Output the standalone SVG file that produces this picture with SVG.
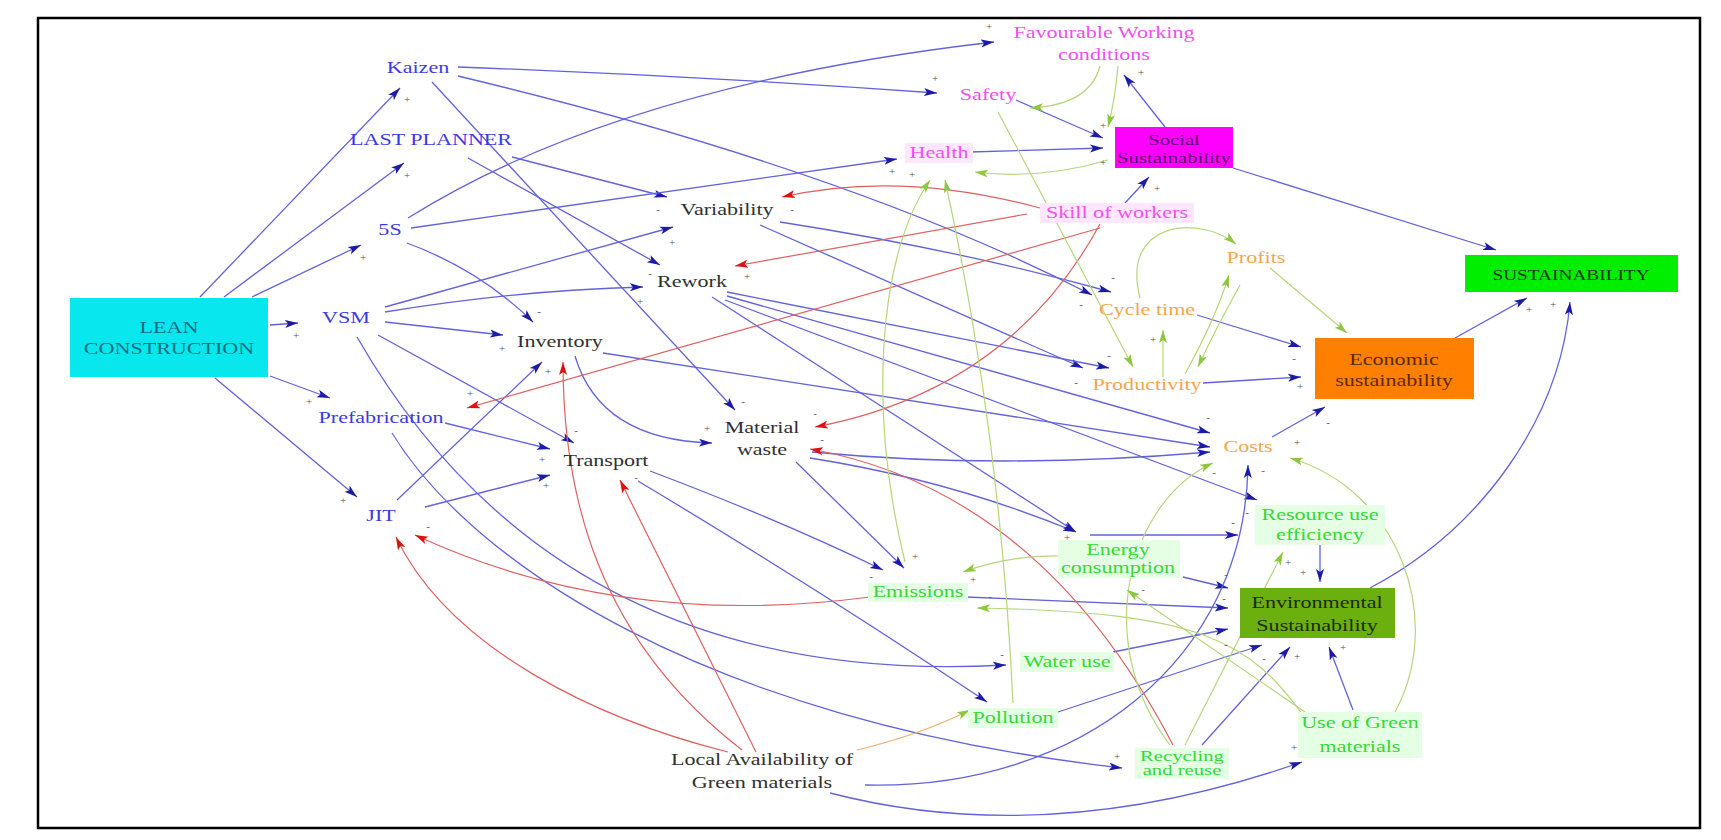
<svg xmlns="http://www.w3.org/2000/svg" width="1721" height="840" viewBox="0 0 1721 840">
<style>
text{font-family:"Liberation Serif","Times New Roman",serif;font-size:16px;text-anchor:middle}
.bl{fill:#3b3be0}.dk{fill:#303030}.pk{fill:#f050f0}.or{fill:#f5a550}.gr{fill:#35d835}
.sg{font-size:11px;fill:#555}
.b{fill:none;stroke:#6262dc;stroke-width:1.3;marker-end:url(#ab)}
.r{fill:none;stroke:#e06060;stroke-width:1.2;marker-end:url(#ar)}
.g{fill:none;stroke:#b5d67a;stroke-width:1.2;marker-end:url(#ag)}
.o{fill:none;stroke:#f0b070;stroke-width:1.2;marker-end:url(#ag)}
.bgg{fill:#e4ffe4}.bgp{fill:#ffe8ff}
</style>
<defs>
<marker id="ab" markerUnits="userSpaceOnUse" markerWidth="14" markerHeight="10" refX="13" refY="5" orient="auto"><path d="M0,1 L13,5 L0,9 L3,5 z" fill="#1b1ba8"/></marker>
<marker id="ar" markerUnits="userSpaceOnUse" markerWidth="14" markerHeight="10" refX="13" refY="5" orient="auto"><path d="M0,1 L13,5 L0,9 L3,5 z" fill="#e01010"/></marker>
<marker id="ag" markerUnits="userSpaceOnUse" markerWidth="14" markerHeight="10" refX="13" refY="5" orient="auto"><path d="M0,1 L13,5 L0,9 L3,5 z" fill="#8dc63f"/></marker>
</defs>
<rect x="0" y="0" width="1721" height="840" fill="#fff"/>
<rect x="38" y="18" width="1662" height="810" fill="none" stroke="#000" stroke-width="2.5"/>

<g id="connectors">
<path class="b" d="M200,297 L400,88"/>
<path class="b" d="M224,297 L404,163"/>
<path class="b" d="M252,297 L361,245"/>
<path class="b" d="M270,325 L298,323"/>
<path class="b" d="M270,376 L330,398"/>
<path class="b" d="M215,378 L357,497"/>
<path class="b" d="M458,67 Q700,76 937,93"/>
<path class="b" d="M458,76 Q850,170 1092,295"/>
<path class="b" d="M432,82 L735,410"/>
<path class="b" d="M512,157 L667,197"/>
<path class="b" d="M468,158 L660,265"/>
<path class="b" d="M411,228 L897,159"/>
<path class="b" d="M408,218 Q620,85 994,42"/>
<path class="b" d="M407,243 Q480,270 533,322"/>
<path class="b" d="M385,307 L673,227"/>
<path class="b" d="M385,312 Q520,290 643,287"/>
<path class="b" d="M385,322 L503,335"/>
<path class="b" d="M378,335 L574,443"/>
<path class="b" d="M357,337 Q560,690 1006,665"/>
<path class="b" d="M445,423 L550,449"/>
<path class="b" d="M392,433 C470,560 700,720 1122,768"/>
<path class="b" d="M397,500 L542,362"/>
<path class="b" d="M425,507 L550,475"/>
<path class="b" d="M575,356 Q600,440 712,443"/>
<path class="b" d="M603,353 Q900,400 1210,447"/>
<path class="b" d="M650,471 Q780,520 883,570"/>
<path class="b" d="M638,481 Q820,590 987,702"/>
<path class="b" d="M796,462 L904,568"/>
<path class="b" d="M810,458 Q950,480 1076,532"/>
<path class="b" d="M812,452 Q1000,470 1210,452"/>
<path class="b" d="M780,222 Q960,250 1111,292"/>
<path class="b" d="M760,225 L1083,368"/>
<path class="b" d="M727,292 L1109,368"/>
<path class="b" d="M727,296 L1210,433"/>
<path class="b" d="M725,300 L1257,500"/>
<path class="b" d="M712,297 L1076,532"/>
<path class="b" d="M970,152 L1103,148"/>
<path class="b" d="M1016,100 L1103,138"/>
<path class="b" d="M1125,203 L1149,177"/>
<path class="b" d="M1165,127 L1124,75"/>
<path class="b" d="M1233,168 L1496,250"/>
<path class="b" d="M1197,315 L1301,347"/>
<path class="b" d="M1203,383 L1301,377"/>
<path class="b" d="M1272,437 L1325,407"/>
<path class="b" d="M1455,338 L1527,298"/>
<path class="b" d="M1370,588 C1480,530 1560,420 1570,302"/>
<path class="b" d="M1320,545 L1320,582"/>
<path class="b" d="M1090,535 L1238,535"/>
<path class="b" d="M1183,577 L1228,588"/>
<path class="b" d="M966,597 L1228,608"/>
<path class="b" d="M1113,652 L1228,629"/>
<path class="b" d="M1058,712 L1262,645"/>
<path class="b" d="M1202,745 L1290,647"/>
<path class="b" d="M1353,710 L1329,647"/>
<path class="b" d="M865,785 C1080,790 1245,660 1248,465"/>
<path class="b" d="M830,793 Q1050,850 1302,762"/>

<path class="r" d="M1040,208 Q900,170 782,197"/>
<path class="r" d="M1027,214 L735,266"/>
<path class="r" d="M1100,228 L467,408"/>
<path class="r" d="M1100,224 Q1010,390 815,427"/>
<path class="r" d="M1173,745 Q1040,490 810,449"/>
<path class="r" d="M742,750 C600,640 563,500 563,362"/>
<path class="r" d="M756,752 L620,480"/>
<path class="r" d="M728,752 C600,720 450,650 396,537"/>
<path class="r" d="M870,597 Q620,630 415,535"/>

<path class="g" d="M1100,66 Q1090,105 1030,108"/>
<path class="g" d="M1118,66 Q1115,100 1108,127"/>
<path class="g" d="M1108,160 Q1040,180 975,172"/>
<path class="g" d="M905,562 C870,420 875,260 930,180"/>
<path class="g" d="M1013,703 Q1000,430 945,180"/>
<path class="g" d="M998,112 L1133,367"/>
<path class="g" d="M1185,374 Q1215,320 1229,275"/>
<path class="g" d="M1240,285 Q1215,330 1198,367"/>
<path class="g" d="M1140,298 C1120,220 1200,215 1236,244"/>
<path class="g" d="M1163,377 L1163,330"/>
<path class="g" d="M1270,268 L1347,333"/>
<path class="g" d="M1170,745 C1090,640 1130,500 1213,463"/>
<path class="g" d="M1395,712 C1445,620 1400,490 1290,458"/>
<path class="g" d="M1305,712 L1127,590"/>
<path class="g" d="M1185,745 L1283,552"/>
<path class="g" d="M1060,556 Q1010,555 963,572"/>
<path class="g" d="M1305,718 C1250,640 1200,612 977,608"/>
<path class="o" d="M857,750 Q920,735 970,710"/>

<g id="polarity">
<text class="sg" x="407" y="103">+</text>
<text class="sg" x="407" y="179">+</text>
<text class="sg" x="363" y="261">+</text>
<text class="sg" x="296" y="339">+</text>
<text class="sg" x="309" y="405">+</text>
<text class="sg" x="343" y="504">+</text>
<text class="sg" x="539" y="315">-</text>
<text class="sg" x="502" y="352">+</text>
<text class="sg" x="548" y="375">+</text>
<text class="sg" x="470" y="397">+</text>
<text class="sg" x="542" y="463">+</text>
<text class="sg" x="546" y="489">+</text>
<text class="sg" x="576" y="434">-</text>
<text class="sg" x="636" y="481">-</text>
<text class="sg" x="428" y="530">-</text>
<text class="sg" x="707" y="432">+</text>
<text class="sg" x="743" y="405">-</text>
<text class="sg" x="815" y="417">-</text>
<text class="sg" x="822" y="443">-</text>
<text class="sg" x="658" y="213">-</text>
<text class="sg" x="792" y="213">-</text>
<text class="sg" x="672" y="246">+</text>
<text class="sg" x="650" y="277">-</text>
<text class="sg" x="640" y="305">+</text>
<text class="sg" x="747" y="280">+</text>
<text class="sg" x="892" y="175">+</text>
<text class="sg" x="912" y="178">+</text>
<text class="sg" x="935" y="82">+</text>
<text class="sg" x="989" y="30">+</text>
<text class="sg" x="1141" y="76">+</text>
<text class="sg" x="1103" y="129">+</text>
<text class="sg" x="1103" y="166">+</text>
<text class="sg" x="1157" y="192">+</text>
<text class="sg" x="1113" y="281">-</text>
<text class="sg" x="1081" y="308">-</text>
<text class="sg" x="1153" y="343">+</text>
<text class="sg" x="1109" y="359">-</text>
<text class="sg" x="1076" y="386">-</text>
<text class="sg" x="1294" y="362">-</text>
<text class="sg" x="1300" y="390">+</text>
<text class="sg" x="1328" y="426">-</text>
<text class="sg" x="1529" y="313">+</text>
<text class="sg" x="1553" y="308">+</text>
<text class="sg" x="1208" y="421">-</text>
<text class="sg" x="1214" y="476">-</text>
<text class="sg" x="1263" y="474">-</text>
<text class="sg" x="1297" y="446">+</text>
<text class="sg" x="1233" y="526">-</text>
<text class="sg" x="1247" y="516">-</text>
<text class="sg" x="1067" y="541">+</text>
<text class="sg" x="1143" y="593">-</text>
<text class="sg" x="1226" y="578">-</text>
<text class="sg" x="1224" y="602">-</text>
<text class="sg" x="1226" y="648">-</text>
<text class="sg" x="1264" y="662">-</text>
<text class="sg" x="1297" y="660">+</text>
<text class="sg" x="1343" y="651">+</text>
<text class="sg" x="1303" y="576">+</text>
<text class="sg" x="1288" y="566">+</text>
<text class="sg" x="915" y="560">+</text>
<text class="sg" x="871" y="580">-</text>
<text class="sg" x="973" y="583">+</text>
<text class="sg" x="990" y="600">-</text>
<text class="sg" x="1002" y="658">-</text>
<text class="sg" x="1117" y="760">+</text>
<text class="sg" x="1294" y="751">+</text>
</g>
</g>

<g id="lean-construction">
<rect x="70" y="298" width="198" height="79" fill="#08e6ee"/>
<text transform="translate(169,333) scale(1.38,1)" fill="#0a6f80"><tspan x="0">LEAN</tspan><tspan x="0" dy="21">CONSTRUCTION</tspan></text>
</g>
<g id="kaizen"><text class="bl" transform="translate(418,73) scale(1.38,1)">Kaizen</text></g>
<g id="last-planner"><text class="bl" transform="translate(431,145) scale(1.38,1)">LAST PLANNER</text></g>
<g id="five-s"><text class="bl" transform="translate(390,235) scale(1.38,1)">5S</text></g>
<g id="vsm"><text class="bl" transform="translate(346,323) scale(1.38,1)">VSM</text></g>
<g id="prefabrication"><text class="bl" transform="translate(381,423) scale(1.38,1)">Prefabrication</text></g>
<g id="jit"><text class="bl" transform="translate(381,521) scale(1.38,1)">JIT</text></g>
<g id="inventory"><text class="dk" transform="translate(560,347) scale(1.38,1)">Inventory</text></g>
<g id="transport"><text class="dk" transform="translate(606,466) scale(1.38,1)">Transport</text></g>
<g id="material-waste"><text class="dk" transform="translate(762,433) scale(1.38,1)"><tspan x="0">Material</tspan><tspan x="0" dy="22">waste</tspan></text></g>
<g id="variability"><text class="dk" transform="translate(727,215) scale(1.38,1)">Variability</text></g>
<g id="rework"><text class="dk" transform="translate(692,287) scale(1.38,1)">Rework</text></g>
<g id="health"><rect class="bgp" x="905" y="143" width="68" height="20"/><text class="pk" transform="translate(939,158) scale(1.38,1)">Health</text></g>
<g id="safety"><text class="pk" transform="translate(988,100) scale(1.38,1)">Safety</text></g>
<g id="favourable"><text class="pk" transform="translate(1104,38) scale(1.38,1)"><tspan x="0">Favourable Working</tspan><tspan x="0" dy="22">conditions</tspan></text></g>
<g id="skill"><rect class="bgp" x="1040" y="203" width="154" height="20"/><text class="pk" transform="translate(1117,218) scale(1.38,1)">Skill of workers</text></g>
<g id="social-sustainability">
<rect x="1115" y="127" width="118" height="41" fill="#ff00ff"/>
<text transform="translate(1174,145) scale(1.38,1)" fill="#5a0a6a" style="font-size:15px"><tspan x="0">Social</tspan><tspan x="0" dy="18">Sustainability</tspan></text>
</g>
<g id="profits"><text class="or" transform="translate(1256,263) scale(1.38,1)">Profits</text></g>
<g id="cycle-time"><text class="or" transform="translate(1147,315) scale(1.38,1)">Cycle time</text></g>
<g id="productivity"><text class="or" transform="translate(1147,390) scale(1.38,1)">Productivity</text></g>
<g id="costs"><text class="or" transform="translate(1248,452) scale(1.38,1)">Costs</text></g>
<g id="economic-sustainability">
<rect x="1315" y="338" width="159" height="61" fill="#ff8000"/>
<text transform="translate(1394,365) scale(1.38,1)" fill="#5a2a00"><tspan x="0">Economic</tspan><tspan x="0" dy="21">sustainability</tspan></text>
</g>
<g id="sustainability">
<rect x="1465" y="255" width="213" height="37" fill="#00ee00"/>
<text transform="translate(1571,280) scale(1.38,1)" fill="#1a3a1a" style="font-size:14px">SUSTAINABILITY</text>
</g>
<g id="resource-efficiency"><rect class="bgg" x="1255" y="505" width="130" height="40"/><text class="gr" transform="translate(1320,520) scale(1.38,1)"><tspan x="0">Resource use</tspan><tspan x="0" dy="20">efficiency</tspan></text></g>
<g id="energy"><rect class="bgg" x="1058" y="540" width="122" height="38"/><text class="gr" transform="translate(1118,555) scale(1.38,1)"><tspan x="0">Energy</tspan><tspan x="0" dy="18">consumption</tspan></text></g>
<g id="emissions"><rect class="bgg" x="868" y="583" width="100" height="19"/><text class="gr" transform="translate(918,597) scale(1.38,1)">Emissions</text></g>
<g id="water-use"><rect class="bgg" x="1020" y="652" width="94" height="20"/><text class="gr" transform="translate(1067,667) scale(1.38,1)">Water use</text></g>
<g id="pollution"><rect class="bgg" x="968" y="708" width="90" height="20"/><text class="gr" transform="translate(1013,723) scale(1.38,1)">Pollution</text></g>
<g id="environmental-sustainability">
<rect x="1240" y="588" width="155" height="50" fill="#6cb010"/>
<text transform="translate(1317,608) scale(1.38,1)" fill="#1a2a00"><tspan x="0">Environmental</tspan><tspan x="0" dy="23">Sustainability</tspan></text>
</g>
<g id="use-green"><rect class="bgg" x="1298" y="712" width="124" height="46"/><text class="gr" transform="translate(1360,728) scale(1.38,1)"><tspan x="0">Use of Green</tspan><tspan x="0" dy="24">materials</tspan></text></g>
<g id="recycling"><rect class="bgg" x="1135" y="748" width="94" height="31"/><text class="gr" transform="translate(1182,761) scale(1.38,1)" style="font-size:15px"><tspan x="0">Recycling</tspan><tspan x="0" dy="14">and reuse</tspan></text></g>
<g id="local-availability"><text class="dk" transform="translate(762,765) scale(1.38,1)"><tspan x="0">Local Availability of</tspan><tspan x="0" dy="23">Green materials</tspan></text></g>
</svg>
